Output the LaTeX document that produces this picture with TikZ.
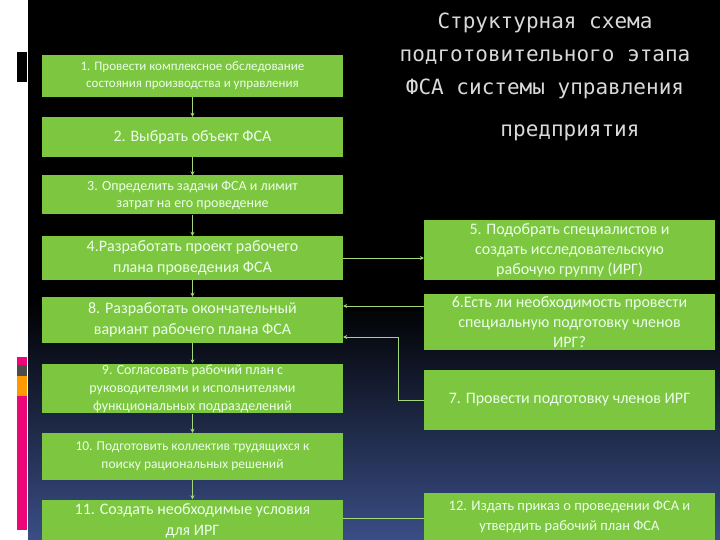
\documentclass[tikz,border=0pt]{standalone}
\usetikzlibrary{arrows.meta}
\usepackage{fontspec}
\setmainfont{Carlito}
\newfontfamily\titlefont{DejaVu Sans Mono}
\begin{document}
\begin{tikzpicture}[x=1pt,y=-1pt,
  box/.style={fill=boxg,draw=none,text=white!92!green,align=center,inner sep=1pt},
  arr/.style={draw=boxg!70!white,line width=0.8pt,-{Stealth[length=4pt,width=4pt]}}]
\definecolor{boxg}{HTML}{7DC63F}
\definecolor{bgbot}{HTML}{3A4E86}
\useasboundingbox (0,0) rectangle (720,540);
\fill[white] (0,0) rectangle (28,540);
\fill[black] (28,0) rectangle (720,300);
\shade[top color=black,bottom color=bgbot] (28,300) rectangle (720,540);
\fill[black] (17,52) rectangle (27,82);
\fill[magenta!80!red] (17,357) rectangle (27,365);
\fill[gray!60!black] (17,365) rectangle (27,376);
\fill[orange!80!yellow] (17,376) rectangle (27,396);
\fill[magenta!80!red] (17,396) rectangle (27,530);
% left column
\node[box,minimum width=301pt,minimum height=42pt,font=\fontsize{13}{17}\selectfont] (b1) at (192.5,76) {1. Провести комплексное обследование\\состояния производства и управления};
\node[box,minimum width=301pt,minimum height=40pt,font=\fontsize{16}{19}\selectfont] (b2) at (192.5,137) {2. Выбрать объект ФСА};
\node[box,minimum width=301pt,minimum height=39pt,font=\fontsize{14}{17}\selectfont] (b3) at (192.5,195) {3. Определить задачи ФСА и лимит\\затрат на его проведение};
\node[box,minimum width=301pt,minimum height=44pt,font=\fontsize{16}{21}\selectfont] (b4) at (192.5,258) {4.Разработать проект рабочего\\плана проведения ФСА};
\node[box,minimum width=301pt,minimum height=46pt,font=\fontsize{16}{21}\selectfont] (b8) at (192.5,320) {8. Разработать окончательный\\вариант рабочего плана ФСА};
\node[box,minimum width=301pt,minimum height=47pt,font=\fontsize{14}{18}\selectfont] (b9) at (192.5,388.5) {9. Согласовать рабочий план с\\руководителями и исполнителями\\функциональных подразделений};
\node[box,minimum width=301pt,minimum height=47pt,font=\fontsize{13.5}{18}\selectfont] (b10) at (192.5,456.5) {10. Подготовить коллектив трудящихся к\\поиску рациональных решений};
\node[box,minimum width=301pt,minimum height=43pt,font=\fontsize{16}{21}\selectfont] (b11) at (192.5,521) {11. Создать необходимые условия\\для ИРГ};
% right column
\node[box,minimum width=291pt,minimum height=60pt,font=\fontsize{16}{20}\selectfont] (b5) at (569.5,250) {5. Подобрать специалистов и\\создать исследовательскую\\рабочую группу (ИРГ)};
\node[box,minimum width=291pt,minimum height=56pt,font=\fontsize{16}{20}\selectfont] (b6) at (569.5,322) {6.Есть ли необходимость провести\\специальную подготовку членов\\ИРГ?};
\node[box,minimum width=291pt,minimum height=60pt,font=\fontsize{16}{20}\selectfont] (b7) at (569.5,400) {7. Провести подготовку членов ИРГ};
\node[box,minimum width=291pt,minimum height=47pt,font=\fontsize{14.5}{20}\selectfont] (b12) at (569.5,516.5) {12. Издать приказ о проведении ФСА и\\утвердить рабочий план ФСА};
% title
\node[text=white!85!black,align=center,font=\titlefont\fontsize{21}{33}\selectfont] (t) at (545,56) {Структурная схема\\подготовительного этапа\\ФСА системы управления};
\node[text=white!85!black,font=\titlefont\fontsize{21}{24}\selectfont] (t2) at (570,133) {предприятия};
% arrows
\foreach \a/\b in {b1/b2,b2/b3,b3/b4,b4/b8,b8/b9,b9/b10,b10/b11}
  \draw[arr] (\a.south) -- (\b.north);
\draw[arr] (b4.east |- 0,258) -- (b5.west |- 0,258);
\draw[arr] (b6.west |- 0,306) -- (b8.east |- 0,306);
\coordinate (c1) at (398,400);
\draw[arr] (b7.west) -- (c1) -- (398,337) -- (b8.east |- 0,337);
\draw[draw=boxg!70!white,line width=0.8pt] (b11.east |- 0,518) -- (b12.west |- 0,518);
\end{tikzpicture}
\end{document}
